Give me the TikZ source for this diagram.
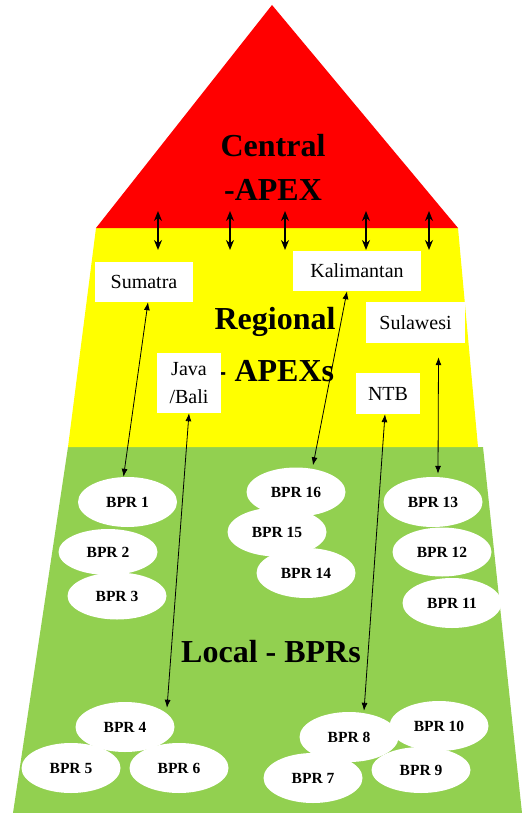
\documentclass[tikz,border=0pt]{standalone}
\usepackage{fontspec}
\setmainfont{Liberation Serif}
\usetikzlibrary{shapes.geometric,arrows.meta}
\definecolor{apexred}{RGB}{255,0,0}
\definecolor{regyellow}{RGB}{255,255,0}
\definecolor{locgreen}{RGB}{146,208,80}
\begin{document}
\begin{tikzpicture}[x=1pt,y=-1pt,
  title/.style={font=\bfseries\fontsize{32}{44}\selectfont, align=center, inner sep=0},
  apexbox/.style={fill=white, font=\fontsize{20}{28}\selectfont, inner sep=0, align=center},
  bpr/.style={ellipse, fill=white, minimum width=99pt, minimum height=50pt, inner sep=0, font=\bfseries\fontsize{15.5}{17}\selectfont},
  link/.style={line width=0.8pt, {Latex[length=8pt,width=6pt]}-{Latex[length=8pt,width=6pt]}},
  toplink/.style={line width=2pt, {Stealth[length=10pt,width=8pt]}-{Stealth[length=10pt,width=8pt]}}
]
\useasboundingbox (0,0) rectangle (528,813);
% layers
\fill[locgreen] (68,447) -- (483,447) -- (522,813) -- (13,813) -- cycle;
\fill[regyellow] (96,228) -- (458,228) -- (478,447) -- (68,447) -- cycle;
\fill[apexred] (272,5) -- (458,228) -- (96,228) -- cycle;
% titles
\node[title] (central) at (273,167) {Central\\-APEX};
\node[title, font=\bfseries\fontsize{32}{52}\selectfont] (regional) at (275,345) {Regional\\- APEXs};
\node[title] (local) at (271,652) {Local - BPRs};
% regional boxes
\node[apexbox, minimum width=98pt, minimum height=40pt] (sumatra) at (144,282) {Sumatra};
\node[apexbox, minimum width=128pt, minimum height=40pt] (kalimantan) at (357,271) {Kalimantan};
\node[apexbox, minimum width=99pt, minimum height=41pt] (sulawesi) at (415.5,322.5) {Sulawesi};
\node[apexbox, minimum width=64pt, minimum height=60pt] (java) at (189,383) {Java\\/Bali};
\node[apexbox, minimum width=64pt, minimum height=41pt] (ntb) at (388,393.5) {NTB};
% top double arrows
\foreach \i/\x in {1/158,2/230,3/285,4/366,5/429}{
  \coordinate (top\i) at (\x,211);
  \coordinate (bot\i) at (\x,250);
  \draw[toplink] (top\i) -- (bot\i);
}
% BPR ellipses
\node[bpr] (bpr1) at (127.5,502) {BPR 1};
\node[bpr, minimum height=46pt] (bpr2) at (108,552) {BPR 2};
\node[bpr, minimum height=47pt] (bpr3) at (117,596) {BPR 3};
\node[bpr, minimum height=49pt] (bpr16) at (296,492) {BPR 16};
\node[bpr, minimum height=49pt] (bpr15) at (277,532) {BPR 15};
\node[bpr] (bpr14) at (306,573) {BPR 14};
\node[bpr] (bpr13) at (433,502) {BPR 13};
\node[bpr, minimum height=49pt] (bpr12) at (442,552) {BPR 12};
\node[bpr] (bpr11) at (452,603) {BPR 11};
\node[bpr] (bpr4) at (125,727) {BPR 4};
\node[bpr] (bpr5) at (71,768) {BPR 5};
\node[bpr] (bpr6) at (179,768) {BPR 6};
\node[bpr] (bpr8) at (349,737) {BPR 8};
\node[bpr] (bpr10) at (439,726) {BPR 10};
\node[bpr] (bpr7) at (313,778) {BPR 7};
\node[bpr, minimum height=46pt] (bpr9) at (421,770) {BPR 9};
% links
\draw[link] ([xshift=4pt]sumatra.south) -- ([xshift=-4pt]bpr1.north);
\draw[link] (java.south) -- ([xshift=42pt,yshift=-6pt]bpr4.north);
\draw[link] ([xshift=-10pt]kalimantan.south) -- ([xshift=17pt,yshift=2pt]bpr16.north);
\draw[link] ([xshift=-3pt]ntb.south) -- ([xshift=15pt,yshift=1pt]bpr8.north);
\draw[link] ([xshift=23pt,yshift=-14pt]sulawesi.south) -- ([xshift=5pt,yshift=3pt]bpr13.north);
\end{tikzpicture}
\end{document}
